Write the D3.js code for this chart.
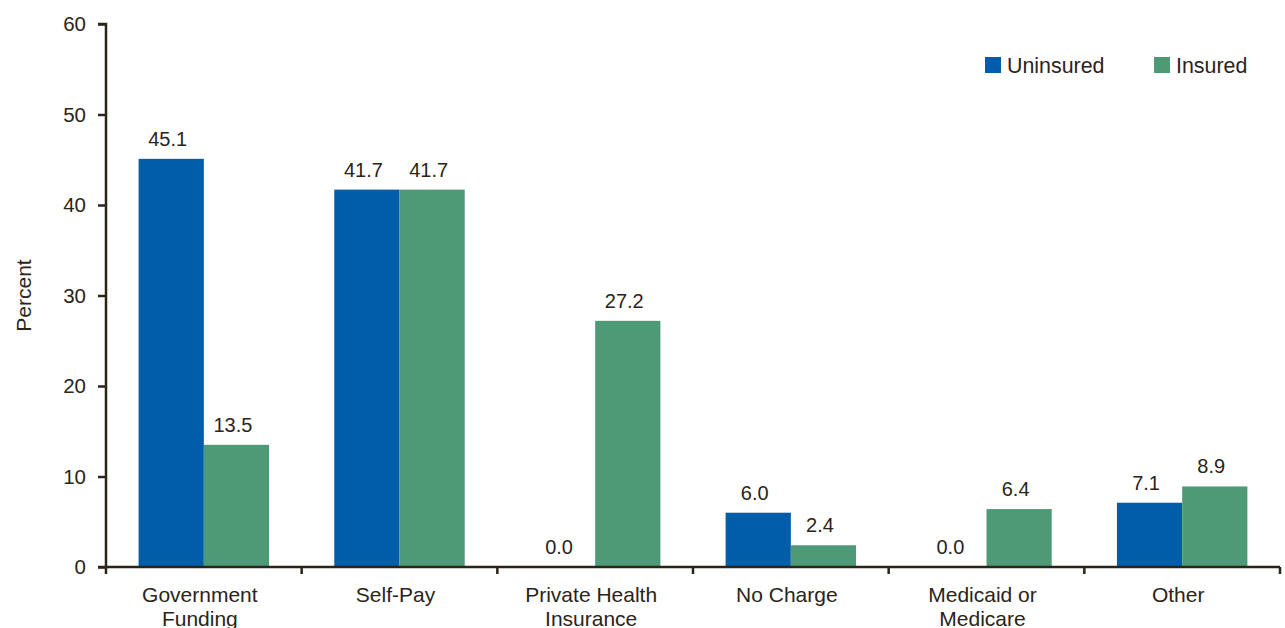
<!DOCTYPE html>
<html>
<head>
<meta charset="utf-8">
<script src="https://cdn.jsdelivr.net/npm/d3@7"></script>
<style>
  html, body { margin: 0; padding: 0; background: #fff; }
  svg { display: block; font-family: "Liberation Sans", Arial, Helvetica, sans-serif; }
</style>
</head>
<body>
<svg id="chart" width="1285" height="628"></svg>
<script>
// Payment source by insurance status
const categories = [
  ["Government", "Funding"],
  ["Self-Pay"],
  ["Private Health", "Insurance"],
  ["No Charge"],
  ["Medicaid or", "Medicare"],
  ["Other"]
];
const seriesNames = ["Uninsured", "Insured"];
const uninsured = [45.1, 41.7, 0.0, 6.0, 0.0, 7.1];
const insured   = [13.5, 41.7, 27.2, 2.4, 6.4, 8.9];
const yTicks = [0, 10, 20, 30, 40, 50, 60];

const colors = { Uninsured: "#005DAA", Insured: "#4E9A77" };
const textColor = "#2B2418";
const axisColor = "#2B2418";

const svg = d3.select("#chart");
const margin = { left: 106, right: 5, top: 24, bottom: 61 };
const W = 1285, H = 628;
const x0 = margin.left, x1 = W - margin.right;
const yBase = H - margin.bottom;

const catKeys = categories.map((c, i) => i);
const x = d3.scaleBand().domain(catKeys).range([x0, x1]).paddingInner(0).paddingOuter(0);
const xs = d3.scaleBand().domain(seriesNames).range([0, x.bandwidth()]).paddingInner(0).paddingOuter(0.5);
const y = d3.scaleLinear().domain([0, 60]).range([yBase, margin.top]);

const rows = catKeys.map(i => ({ i, values: [
  { key: "Uninsured", v: uninsured[i] },
  { key: "Insured", v: insured[i] }
]}));

// bars
const g = svg.append("g");
const grp = g.selectAll("g.cat").data(rows).join("g")
  .attr("class", "cat")
  .attr("transform", d => `translate(${x(d.i)},0)`);

grp.selectAll("rect").data(d => d.values).join("rect")
  .attr("x", d => xs(d.key))
  .attr("width", xs.bandwidth())
  .attr("y", d => y(d.v))
  .attr("height", d => yBase - y(d.v))
  .attr("fill", d => colors[d.key]);

// value labels
grp.selectAll("text.val").data(d => d.values).join("text")
  .attr("class", "val")
  .attr("x", d => xs(d.key) + xs.bandwidth() / 2 - 3.5)
  .attr("y", d => y(d.v) - 13)
  .attr("text-anchor", "middle")
  .attr("font-size", 20)
  .attr("fill", textColor)
  .text(d => d.v.toFixed(1));

// y axis
const yAxis = d3.axisLeft(y).tickValues(yTicks).tickSize(8).tickPadding(12).tickFormat(d3.format("d"));
const ya = svg.append("g").attr("transform", `translate(${x0},0)`).call(yAxis);
ya.select(".domain").attr("stroke", axisColor).attr("stroke-width", 2.5)
  .attr("d", `M-8,${y(60)}H0V${yBase}`);
ya.selectAll(".tick line").attr("stroke", axisColor).attr("stroke-width", 2.5);
ya.selectAll(".tick text").attr("font-size", 20.5).attr("fill", textColor)
  .attr("font-family", "Liberation Sans, Arial, sans-serif");

// x axis with boundary ticks
const xa = svg.append("g");
xa.append("line")
  .attr("x1", x0 - 8).attr("x2", x1)
  .attr("y1", yBase).attr("y2", yBase)
  .attr("stroke", axisColor).attr("stroke-width", 2.5);
const bounds = catKeys.map(i => x(i)).concat([x1]);
xa.selectAll("line.tk").data(bounds).join("line")
  .attr("class", "tk")
  .attr("x1", d => d).attr("x2", d => d)
  .attr("y1", yBase).attr("y2", yBase + 7)
  .attr("stroke", axisColor).attr("stroke-width", 2.5);

// category labels
const cl = xa.selectAll("text.cat").data(rows).join("text")
  .attr("class", "cat")
  .attr("x", d => x(d.i) + x.bandwidth() / 2 - 4)
  .attr("y", yBase + 35)
  .attr("text-anchor", "middle")
  .attr("font-size", 21)
  .attr("fill", textColor);
cl.selectAll("tspan").data(d => categories[d.i]).join("tspan")
  .attr("x", function() { return d3.select(this.parentNode).attr("x"); })
  .attr("dy", (d, k) => k === 0 ? 0 : 24)
  .text(d => d);

// y title
svg.append("text")
  .attr("transform", `translate(30.5,${(y(60) + yBase) / 2 + 0}) rotate(-90)`)
  .attr("text-anchor", "middle")
  .attr("font-size", 21)
  .attr("fill", textColor)
  .text("Percent");

// legend
const legendX = [985, 1154];
const lg = svg.append("g").selectAll("g").data(seriesNames).join("g")
  .attr("transform", (d, i) => `translate(${legendX[i]},57)`);
lg.append("rect").attr("width", 16).attr("height", 16).attr("fill", d => colors[d]);
lg.append("text").attr("x", 22).attr("y", 15.5)
  .attr("font-size", 21.4).attr("fill", textColor).text(d => d);
</script>
</body>
</html>
